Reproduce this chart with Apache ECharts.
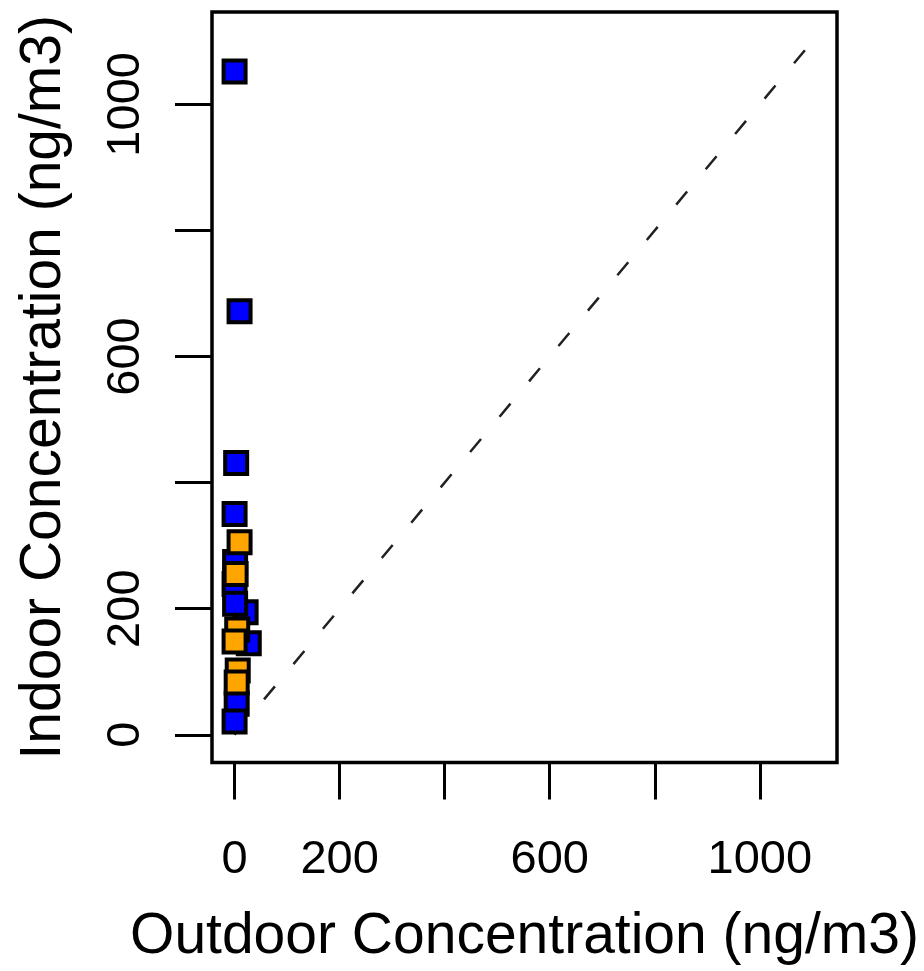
<!DOCTYPE html>
<html>
<head>
<meta charset="utf-8">
<script src="https://cdn.jsdelivr.net/npm/echarts@6/dist/echarts.min.js"></script>
<style>
  html, body { margin: 0; padding: 0; background: #fff; }
  #chart { width: 924px; height: 971px; }
</style>
</head>
<body>
<div id="chart"></div>
<script>
  // 室外 / 室内浓度 (ng/m3)
  const blueOutdoor = [0, 9.5, 3, 0, 1, 0, 21, 1, 27, 4, 0];
  const blueIndoor = [1052, 672, 431, 350, 274, 239, 194.5, 208, 145, 49, 21];
  const orangeOutdoor = [9.5, 2, 5, 0, 6, 4];
  const orangeIndoor = [305.5, 255, 167, 148, 102, 83];

  // 1:1 参考线
  const refLine = [[0, 0], [1103, 1103]];

  const tickValues = [0, 200, 400, 600, 800, 1000];
  const labelValues = [0, 200, 600, 1000];

  const font = 'Liberation Sans, Arial, sans-serif';

  function zip(xs, ys) {
    return xs.map((x, i) => [x, ys[i]]);
  }

  const chart = echarts.init(document.getElementById('chart'), null, { renderer: 'canvas' });

  const axisCommon = {
    type: 'value',
    nameLocation: 'middle',
    axisLine: { show: false, onZero: false },
    splitLine: { show: false },
    axisTick: {
      show: true,
      inside: false,
      length: 37,
      lineStyle: { color: '#000', width: 3 },
      customValues: tickValues
    }
  };

  chart.setOption({
    animation: false,
    backgroundColor: '#fff',
    grid: {
      left: 212,
      right: 87,
      top: 12,
      bottom: 203,
      show: true,
      borderColor: '#000',
      borderWidth: 3.5,
      backgroundColor: 'transparent'
    },
    xAxis: Object.assign({}, axisCommon, {
      min: -43,
      max: 1147,
      name: 'Outdoor Concentration (ng/m3)',
      nameGap: 175,
      nameTextStyle: { fontFamily: font, fontSize: 57, color: '#000', verticalAlign: 'middle' },
      axisLabel: {
        customValues: labelValues,
        formatter: v => String(v),
        margin: 98,
        fontFamily: font,
        fontSize: 47,
        color: '#000',
        verticalAlign: 'middle'
      }
    }),
    yAxis: Object.assign({}, axisCommon, {
      min: -44,
      max: 1146.5,
      name: 'Indoor Concentration (ng/m3)',
      nameGap: 168,
      nameTextStyle: { fontFamily: font, fontSize: 57, color: '#000', verticalAlign: 'middle' },
      axisLabel: {
        customValues: labelValues,
        formatter: v => String(v),
        rotate: 90,
        margin: 86,
        fontFamily: font,
        fontSize: 47,
        color: '#000',
        align: 'center',
        verticalAlign: 'middle'
      }
    }),
    series: [
      {
        type: 'line',
        data: refLine,
        symbol: 'none',
        silent: true,
        lineStyle: { color: '#222', width: 2.5, type: [17, 29] },
        z: 1
      },
      {
        type: 'scatter',
        data: zip(blueOutdoor, blueIndoor),
        symbol: 'rect',
        symbolSize: 22,
        itemStyle: { color: '#0000ff', borderColor: '#000', borderWidth: 4, opacity: 1 },
        z: 2
      },
      {
        type: 'scatter',
        data: zip(orangeOutdoor, orangeIndoor),
        symbol: 'rect',
        symbolSize: 22,
        itemStyle: { color: '#ffa500', borderColor: '#000', borderWidth: 4, opacity: 1 },
        z: 3
      }
    ]
  });
</script>
</body>
</html>
